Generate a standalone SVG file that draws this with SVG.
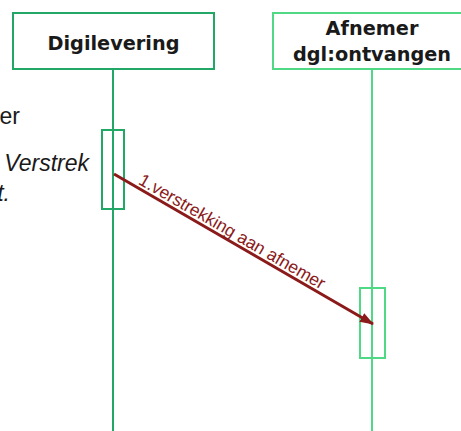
<svg xmlns="http://www.w3.org/2000/svg" width="461" height="431" viewBox="0 0 461 431">
<style>
.head1{fill:#ffffff;stroke:#22a866;stroke-width:2}
.head2{fill:#ffffff;stroke:#4fd985;stroke-width:2}
.life1{stroke:#22a866;stroke-width:2;fill:none}
.life2{stroke:#4fd985;stroke-width:2;fill:none}
.act1{fill:none;stroke:#22a866;stroke-width:2}
.act2{fill:none;stroke:#4fd985;stroke-width:2}
.title{font-family:"DejaVu Sans",Verdana,sans-serif;font-weight:bold;font-size:19.3px;fill:#1a1a1a;text-anchor:middle}
.side{font-family:"Liberation Sans",Arial,sans-serif;font-size:23px;fill:#1a1a1a;text-anchor:end}
.msg{stroke:#8b1a1a;stroke-width:3;fill:none}
.msglabel{font-family:"Liberation Sans",Arial,sans-serif;font-size:17.5px;fill:#8b1a1a}
</style>
<defs>
<marker id="arrow" markerWidth="14" markerHeight="10" refX="13" refY="5" orient="auto" markerUnits="userSpaceOnUse">
<path d="M0,0 L14,5 L0,10 Z" fill="#8b1a1a"/>
</marker>
</defs>
<rect width="461" height="431" fill="#ffffff"/>
<g id="side-text">
<text class="side" x="20" y="124">er</text>
<text class="side" x="89" y="171" font-style="italic">Verstrek</text>
<text class="side" x="10" y="201" font-style="italic">t.</text>
</g>
<g id="digilevering">
<line class="life1" x1="113" y1="70" x2="113" y2="431"/>
<rect class="head1" x="13" y="13" width="201" height="56"/>
<text class="title" x="113.5" y="50">Digilevering</text>
<rect class="act1" x="102" y="130" width="22" height="79"/>
</g>
<g id="afnemer">
<line class="life2" x1="372" y1="70" x2="372" y2="431"/>
<rect class="head2" x="273" y="13" width="200" height="56"/>
<text class="title" x="372" y="35">Afnemer</text>
<text class="title" x="372" y="61">dgl:ontvangen</text>
<rect class="act2" x="360" y="288" width="25" height="70"/>
</g>
<g id="connectors">
<line class="msg" x1="114" y1="174" x2="373" y2="324" marker-end="url(#arrow)"/>
<text class="msglabel" transform="translate(137.5,183.5) rotate(30.08)">1.verstrekking aan afnemer</text>
</g>
</svg>
